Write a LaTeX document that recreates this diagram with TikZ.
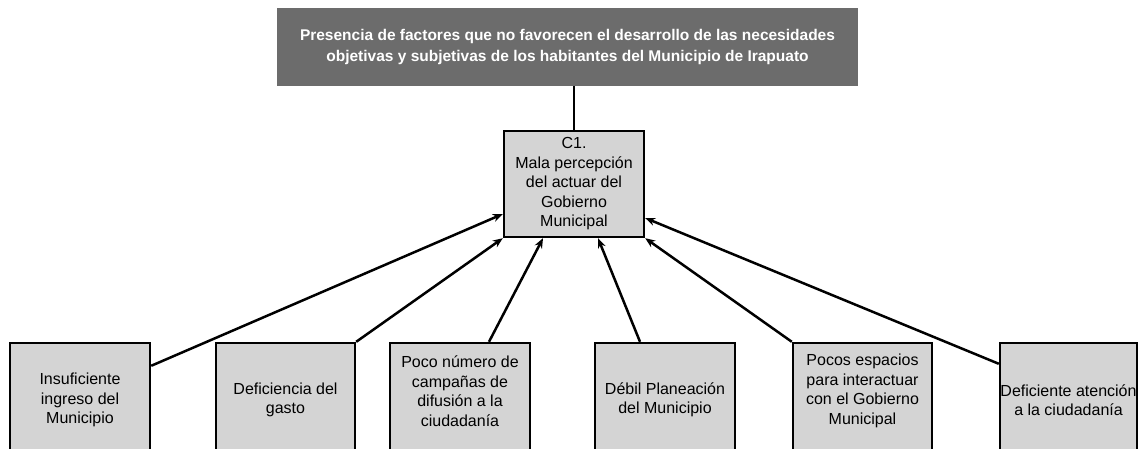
\documentclass[tikz,border=0pt]{standalone}
\usepackage{fontspec}
\setmainfont{Liberation Sans}
\usetikzlibrary{calc,arrows.meta}
\definecolor{lightbox}{HTML}{D4D4D4}
\definecolor{darkbox}{HTML}{6C6C6C}
\tikzset{
  causebox/.style={draw=black, line width=2.4pt, fill=lightbox, inner sep=0pt},
  boxtext/.style={align=center, font=\fontsize{16}{19.5}\selectfont, inner sep=0pt},
  conn/.style={line width=2.5pt, -{Stealth[length=10pt,width=8pt]}},
}
\begin{document}
\begin{tikzpicture}[x=1pt,y=-1pt]
\useasboundingbox (0,0) rectangle (1139,449);
\begin{scope}
\clip (0,0) rectangle (1139,449);
% top box
\node[fill=darkbox, minimum width=581pt, minimum height=78pt, inner sep=0pt,
      text=white, align=center, font=\bfseries\fontsize{15.5}{21.5}\selectfont] (top) at (567.5,47)
  {Presencia de factores que no favorecen el desarrollo de las necesidades\\objetivas y subjetivas de los habitantes del Municipio de Irapuato};
% central box
\node[causebox, minimum width=140pt, minimum height=106pt, boxtext] (c1) at (574,184)
  {C1.\\Mala percepción\\del actuar del\\Gobierno\\Municipal};
\draw[line width=2.4pt] (c1.north) -- (c1.north |- top.south);
% bottom boxes
\node[causebox, minimum width=140pt, minimum height=114pt] (b1) at (80,400) {};
\node[causebox, minimum width=139pt, minimum height=114pt] (b2) at (285.5,400) {};
\node[causebox, minimum width=140pt, minimum height=114pt] (b3) at (460,400) {};
\node[causebox, minimum width=140pt, minimum height=114pt] (b4) at (665,400) {};
\node[causebox, minimum width=139pt, minimum height=114pt] (b5) at (862.5,400) {};
\node[causebox, minimum width=137pt, minimum height=114pt] (b6) at (1068.5,400) {};
\node[boxtext] (t1) at (b1.center) {Insuficiente\\ingreso del\\Municipio};
\node[boxtext] (t2) at (b2.center) {Deficiencia del\\gasto};
\node[boxtext] (t3) at ($(b3.center)+(0,-9)$) {Poco número de\\campañas de\\difusión a la\\ciudadanía};
\node[boxtext] (t4) at (b4.center) {Débil Planeación\\del Municipio};
\node[boxtext] (t5) at ($(b5.center)+(0,-9)$) {Pocos espacios\\para interactuar\\con el Gobierno\\Municipal};
\node[boxtext] (t6) at (b6.center) {Deficiente atención\\a la ciudadanía};
% connectors
\draw[conn] ($(b1.north east)+(0,24)$) -- ($(c1.west)+(0,30)$);
\draw[conn] (b2.north east) -- (c1.south west);
\draw[conn] ($(b3.north)+(29,0)$) -- ($(c1.south)+(-31,0)$);
\draw[conn] ($(b4.north)+(-25,0)$) -- ($(c1.south)+(24,0)$);
\draw[conn] (b5.north west) -- (c1.south east);
\draw[conn] ($(b6.north west)+(0,22)$) -- ($(c1.east)+(0,34)$);
\end{scope}
\end{tikzpicture}
\end{document}
